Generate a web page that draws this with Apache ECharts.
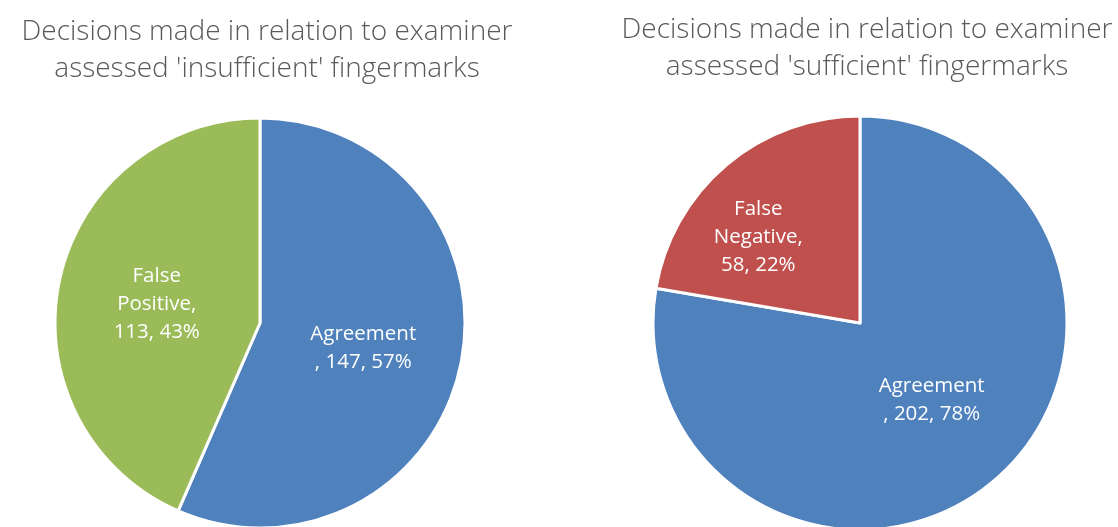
<!DOCTYPE html>
<html><head><meta charset="utf-8">
<script src="https://cdn.jsdelivr.net/npm/echarts@6/dist/echarts.min.js"></script>
<style>html,body{margin:0;padding:0;background:#fff}#c{width:1118px;height:527px}</style>
</head><body><div id="c"></div>
<script>
const titles = [
  "Decisions made in relation to examiner\nassessed 'insufficient' fingermarks",
  "Decisions made in relation to examiner\nassessed 'sufficient' fingermarks"
];
const leftNames = ["Agreement", "False Positive"];
const leftValues = [147, 113];
const rightNames = ["Agreement", "False Negative"];
const rightValues = [202, 58];
const leftLabels = ["Agreement\n, 147, 57%", "False\nPositive,\n113, 43%"];
const rightLabels = ["Agreement\n, 202, 78%", "False\nNegative,\n58, 22%"];

const chart = echarts.init(document.getElementById('c'));
const labelStyle = {show:true, position:'inside', color:'#fff', fontSize:20.5, lineHeight:28, fontFamily:'Open Sans', fontWeight:'normal'};
function mk(names, values, colors, labels){
  return names.map((n,i)=>({name:n, value:values[i], itemStyle:{color:colors[i]}, label:{formatter:labels[i]}}));
}
const titleStyle = {fontSize:28, fontWeight:300, color:'#595959', fontFamily:'Open Sans', lineHeight:37};
chart.setOption({
  animation:false,
  title: [
    {text:titles[0], left:262, top:9, textAlign:'center', textStyle:titleStyle},
    {text:titles[1], left:862, top:7, textAlign:'center', textStyle:titleStyle}
  ],
  series: [
    {type:'pie', center:[260,323], radius:205, startAngle:90, clockwise:true, label:labelStyle, labelLine:{show:false},
     itemStyle:{borderColor:'#fff', borderWidth:3}, emphasis:{disabled:true},
     labelLayout: function(p){ return p.dataIndex === 0 ? {dy:4} : {dy:3}; },
     data: mk(leftNames, leftValues, ['#4F81BD','#9BBB59'], leftLabels)},
    {type:'pie', center:[860,323], radius:207, startAngle:90, clockwise:true, label:labelStyle, labelLine:{show:false},
     itemStyle:{borderColor:'#fff', borderWidth:3}, emphasis:{disabled:true},
     labelLayout: function(p){ return p.dataIndex === 1 ? {dx:-33, dy:-4} : {dx:3, dy:-4}; },
     data: mk(rightNames, rightValues, ['#4F81BD','#C0504D'], rightLabels)}
  ]
});
</script></body></html>
